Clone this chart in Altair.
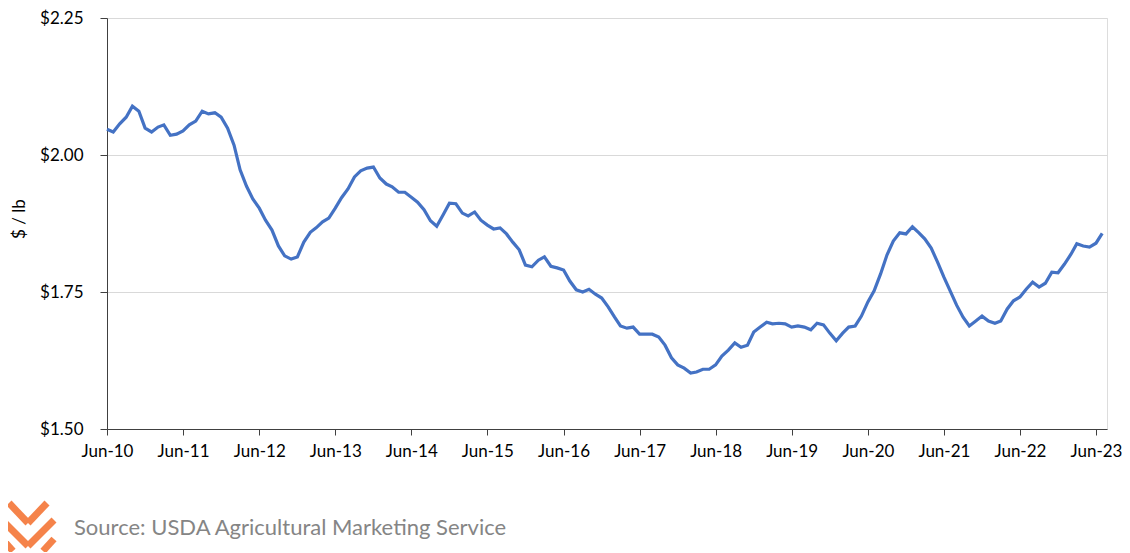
import altair as alt
import pandas as pd

# Monthly price, $/lb, starting Jun-2010
start_month = "2010-06-01"
prices = [
    2.047, 2.042, 2.057, 2.069, 2.089, 2.080, 2.049, 2.042, 2.051, 2.055, 2.036, 2.038,
    2.044, 2.055, 2.062, 2.080, 2.075, 2.077, 2.069, 2.049, 2.018, 1.973, 1.943, 1.920,
    1.903, 1.881, 1.863, 1.834, 1.816, 1.810, 1.814, 1.841, 1.859, 1.867, 1.878, 1.885,
    1.903, 1.922, 1.938, 1.960, 1.971, 1.976, 1.978, 1.958, 1.947, 1.942, 1.932, 1.932,
    1.923, 1.914, 1.900, 1.880, 1.870, 1.891, 1.912, 1.911, 1.894, 1.889, 1.896, 1.881,
    1.872, 1.865, 1.867, 1.856, 1.841, 1.827, 1.799, 1.796, 1.808, 1.814, 1.797, 1.794,
    1.790, 1.770, 1.754, 1.750, 1.755, 1.746, 1.739, 1.723, 1.704, 1.688, 1.684, 1.686,
    1.673, 1.673, 1.673, 1.668, 1.653, 1.630, 1.617, 1.611, 1.602, 1.604, 1.609, 1.609,
    1.617, 1.633, 1.644, 1.657, 1.649, 1.653, 1.677, 1.686, 1.695, 1.692, 1.693, 1.692,
    1.686, 1.688, 1.686, 1.681, 1.693, 1.690, 1.675, 1.661, 1.675, 1.686, 1.688, 1.706,
    1.732, 1.752, 1.783, 1.818, 1.843, 1.858, 1.856, 1.869, 1.858, 1.847, 1.830, 1.805,
    1.777, 1.752, 1.726, 1.704, 1.688, 1.697, 1.706, 1.697, 1.693, 1.697, 1.719, 1.734,
    1.741, 1.755, 1.768, 1.759, 1.766, 1.786, 1.785, 1.801, 1.819, 1.838, 1.834, 1.832,
    1.839, 1.857,
]
tick_years = list(range(2010, 2024))
y_ticks = [1.50, 1.75, 2.00, 2.25]
y_title = "$ / lb"
source_text = "Source: USDA Agricultural Marketing Service"

dates = pd.date_range(start_month, periods=len(prices), freq="MS")
df = pd.DataFrame({"date": dates.strftime("%Y-%m-%dT00:00:00"), "price": prices})

FONT = "Lato"
W, H = 1000, 411

x_enc = alt.X(
    "date:T",
    scale=alt.Scale(domain=[alt.DateTime(year=2010, month=6, date=1),
                            alt.DateTime(year=2023, month=7, date=24)]),
    axis=alt.Axis(
        values=[alt.DateTime(year=y, month=6, date=1) for y in tick_years],
        format="%b-%y", title=None, grid=False,
        domainColor="#404040", tickColor="#404040", tickSize=6,
        labelFont=FONT, labelFontSize=17, labelColor="#000000", labelPadding=8,
        labelFlush=False,
    ),
)
y_enc = alt.Y(
    "price:Q",
    scale=alt.Scale(domain=[1.5, 2.25], nice=False, zero=False),
    axis=alt.Axis(
        values=y_ticks, format="$.2f", title=y_title,
        titleFont=FONT, titleFontSize=17, titleFontWeight="normal", titleColor="#000000",
        titleX=-88, titleY=H / 2 - 5, titleBaseline="middle",
        grid=True, gridColor="#d9d9d9", gridWidth=1,
        domainColor="#404040", tickColor="#404040", tickSize=7,
        labelFont=FONT, labelFontSize=17, labelColor="#000000", labelPadding=17,
    ),
)

line = alt.Chart(df).mark_line(color="#4472C4", strokeWidth=3.2).encode(x=x_enc, y=y_enc)

src = alt.Chart(pd.DataFrame({"t": [source_text]})).mark_text(
    align="left", baseline="alphabetic", font=FONT, fontSize=22, color="#858585"
).encode(text="t:N", x=alt.value(-33), y=alt.value(517))

# logo (decorative chevrons), pixel positions relative to plot origin
OX, OY = -107, -18
logo_segments = [
    (9, 503, 28, 523), (28, 523, 47, 503),
    (2, 520, 28, 546), (28, 546, 54, 520),
    (2, 539, 13, 551), (54, 539, 43, 551),
]
logo_layers = []
for (x1, y1, x2, y2) in logo_segments:
    logo_layers.append(
        alt.Chart(pd.DataFrame({"a": [0]})).mark_rule(
            color="#F5834A", strokeWidth=7, strokeCap="butt"
        ).encode(x=alt.value(x1 + OX), x2=alt.value(x2 + OX),
                 y=alt.value(y1 + OY), y2=alt.value(y2 + OY))
    )

chart = alt.layer(line, src, *logo_layers).properties(
    width=W, height=H,
    autosize=alt.AutoSizeParams(type="none"),
    padding={"left": 99, "top": 10, "right": 15, "bottom": 123},
).configure_view(stroke=None).configure(background="white")

chart.save("out.html", embed_options={"renderer": "svg", "actions": False})
